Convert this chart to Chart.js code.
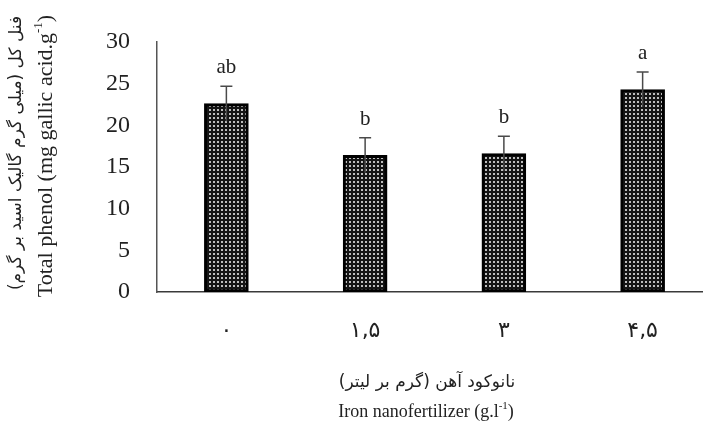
<!DOCTYPE html>
<html>
<head>
<meta charset="utf-8">
<script src="https://cdn.jsdelivr.net/npm/chart.js@4.4.1/dist/chart.umd.min.js"></script>
<style>
  html, body { margin: 0; padding: 0; background: #fff; overflow: hidden; }
  #wrap { position: relative; width: 712px; height: 432px; }
</style>
</head>
<body>
<div id="wrap"><canvas id="phenolChart"></canvas></div>
<script>
// values
const categories = ['۰', '۱,۵', '۳', '۴,۵'];
const phenol = [22.6, 16.4, 16.6, 24.3];
const errors = [2.1, 2.1, 2.1, 2.1];
const letters = ['ab', 'b', 'b', 'a'];
const yMax = 30;
const yStep = 5;

const yTitleFa = 'فنل کل (میلی گرم گالیک اسید بر گرم)';
const yTitleEn = 'Total phenol (mg gallic acid.g';
const xTitleFa = 'نانوکود آهن (گرم بر لیتر)';
const xTitleEn = 'Iron nanofertilizer (g.l';

// dotted fill like the original hatch
function makePattern() {
    var c = document.createElement('canvas');
    c.width = 4; c.height = 4;
    var g = c.getContext('2d');
    g.fillStyle = '#141414';
    g.fillRect(0, 0, 4, 4);
    g.fillStyle = '#bdbdbd';
    g.fillRect(1, 1, 2, 2);
    return g.createPattern(c, 'repeat');
}

const serif = '"Liberation Serif", "Times New Roman", serif';
const persian = '"DejaVu Sans", "Noto Sans", sans-serif';

// text with a small raised "-1" before the closing bracket
function supText(ctx, text, size, x, y) {
    ctx.textAlign = 'left';
    ctx.font = size + 'px ' + serif;
    const w = ctx.measureText(text).width;
    const w3 = ctx.measureText(')').width;
    ctx.font = Math.round(size * 0.6) + 'px ' + serif;
    const w2 = ctx.measureText('-1').width;
    const sx = x - (w + w2 + w3) / 2;
    ctx.font = size + 'px ' + serif;
    ctx.fillText(text, sx, y);
    ctx.fillText(')', sx + w + w2, y);
    ctx.font = Math.round(size * 0.6) + 'px ' + serif;
    ctx.fillText('-1', sx + w, y - size * 0.33);
}

const extras = {
    id: 'extras',
    afterDatasetsDraw(chart) {
        const ctx = chart.ctx;
        const x = chart.scales.x, y = chart.scales.y;
        ctx.save();
        // error bars
        ctx.strokeStyle = '#4a4a4a';
        ctx.lineWidth = 1.5;
        phenol.forEach((v, i) => {
            const cx = x.getPixelForValue(i);
            const top = y.getPixelForValue(v + errors[i]);
            const bot = y.getPixelForValue(v - errors[i]);
            ctx.beginPath();
            ctx.moveTo(cx, bot);
            ctx.lineTo(cx, top);
            ctx.moveTo(cx - 6, top);
            ctx.lineTo(cx + 6, top);
            ctx.stroke();
            // significance letters
            ctx.fillStyle = '#222';
            ctx.font = '21px ' + serif;
            ctx.textAlign = 'center';
            ctx.textBaseline = 'alphabetic';
            ctx.fillText(letters[i], cx, top - 13);
        });

        // x axis titles
        ctx.fillStyle = '#222';
        ctx.textAlign = 'center';
        ctx.textBaseline = 'middle';
        ctx.font = '17px ' + persian;
        ctx.direction = 'rtl';
        ctx.fillText(xTitleFa, 427, 383);
        ctx.direction = 'ltr';
        supText(ctx, xTitleEn, 18, 426, 412);

        // y axis titles (rotated)
        ctx.translate(17, 153);
        ctx.rotate(-Math.PI / 2);
        ctx.textAlign = 'center';
        ctx.font = '17px ' + persian;
        ctx.direction = 'rtl';
        ctx.fillText(yTitleFa, 0, 0);
        ctx.direction = 'ltr';
        supText(ctx, yTitleEn, 22, -3, 29);
        ctx.restore();
    }
};

var ctx = document.getElementById('phenolChart').getContext('2d');
var myChart = new Chart(ctx, {
    type: 'bar',
    data: {
        labels: categories,
        datasets: [{
            data: phenol,
            backgroundColor: makePattern(),
            borderColor: '#000',
            borderWidth: 3,
            borderSkipped: false,
            barThickness: 44
        }]
    },
    options: {
        responsive: true,
        maintainAspectRatio: false,
        animation: false,
        layout: { padding: { top: 42, right: 0, bottom: 0, left: 0 } },
        plugins: {
            legend: { display: false },
            tooltip: { enabled: false }
        },
        scales: {
            x: {
                grid: { display: false },
                border: { display: true, color: '#3a3a3a', width: 1.5 },
                ticks: {
                    font: { family: persian, size: 22 },
                    color: '#222',
                    padding: 18,
                    maxRotation: 0
                },
                afterFit: scale => { scale.height = 140; }
            },
            y: {
                min: 0,
                max: yMax,
                grid: { display: false },
                border: { display: true, color: '#555', width: 1.5 },
                ticks: {
                    stepSize: yStep,
                    font: { family: serif, size: 24 },
                    color: '#222',
                    padding: 19
                },
                afterFit: scale => { scale.width = 157; }
            }
        }
    },
    plugins: [extras]
});
</script>
</body>
</html>
